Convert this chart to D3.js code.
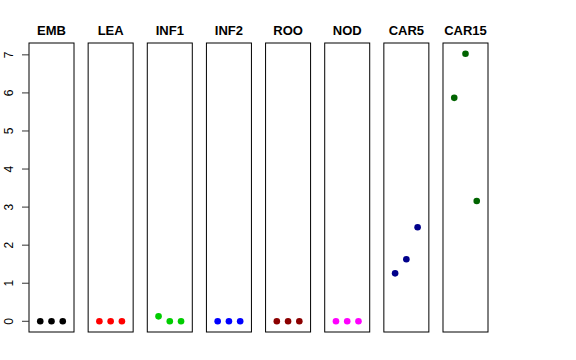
<!DOCTYPE html>
<html>
<head>
<meta charset="utf-8">
<script src="https://cdn.jsdelivr.net/npm/d3@7"></script>
<style>
  body { margin: 0; background: #fff; }
  svg { display: block; font-family: "Liberation Sans", Arial, sans-serif; }
</style>
</head>
<body>
<svg id="chart" width="576" height="360"></svg>
<script>
// one panel per tissue, three replicates each
var tissues = ['EMB', 'LEA', 'INF1', 'INF2', 'ROO', 'NOD', 'CAR5', 'CAR15'];
var colors = ['#000000', '#ff0000', '#00cd00', '#0000ff', '#8b0000', '#ff00ff', '#00008b', '#006400'];
var replicates = [1, 2, 3];
var values = [
  [0, 0, 0],
  [0, 0, 0],
  [0.13, 0, 0],
  [0, 0, 0],
  [0, 0, 0],
  [0, 0, 0],
  [1.26, 1.63, 2.47],
  [5.87, 7.03, 3.16]
];
var yTicks = [0, 1, 2, 3, 4, 5, 6, 7];

var svg = d3.select('#chart');

var panel = d3.scaleBand()
    .domain(tissues)
    .range([29, 488])
    .paddingInner(0.239)
    .paddingOuter(0);

var all = d3.merge(values);
var ymin = d3.min(all), ymax = d3.max(all);
var pad = (ymax - ymin) * 0.04;
var y = d3.scaleLinear()
    .domain([ymin - pad, ymax + pad])
    .range([332, 43]);

var x = d3.scaleLinear()
    .domain([0, 4])
    .range([0, panel.bandwidth()]);

var groups = svg.selectAll('.panel')
    .data(tissues)
    .enter().append('g')
    .attr('class', 'panel')
    .attr('transform', function(d) { return 'translate(' + panel(d) + ',0)'; });

groups.append('rect')
    .attr('x', 0)
    .attr('y', y.range()[1])
    .attr('width', panel.bandwidth())
    .attr('height', y.range()[0] - y.range()[1])
    .attr('fill', 'none')
    .attr('stroke', '#000')
    .attr('stroke-width', 1);

groups.append('text')
    .attr('x', panel.bandwidth() / 2)
    .attr('y', 35)
    .attr('text-anchor', 'middle')
    .style('font-size', '13px')
    .style('font-weight', 'bold')
    .text(function(d) { return d; });

groups.selectAll('circle')
    .data(function(d, i) {
      return values[i].map(function(v, j) { return { v: v, r: replicates[j], c: colors[i] }; });
    })
    .enter().append('circle')
    .attr('cx', function(d) { return x(d.r); })
    .attr('cy', function(d) { return y(d.v); })
    .attr('r', 3.3)
    .attr('fill', function(d) { return d.c; });

// y axis on the first panel only
var axis = svg.append('g')
    .attr('transform', 'translate(' + panel(tissues[0]) + ',0)')
    .call(d3.axisLeft(y).tickValues(yTicks).tickSize(7).tickPadding(5));
axis.select('.domain').remove();
axis.selectAll('.tick').attr('transform', null);
axis.selectAll('.tick line')
    .attr('y1', function(d) { return y(d); })
    .attr('y2', function(d) { return y(d); })
    .attr('stroke', '#333');
axis.selectAll('text')
    .attr('transform', function(d) { return 'rotate(-90,' + (-16) + ',' + y(d) + ')'; })
    .attr('x', -16)
    .attr('y', function(d) { return y(d); })
    .attr('dy', 0)
    .attr('text-anchor', 'middle')
    .style('font-size', '12px')
    .style('font-family', '"Liberation Sans", Arial, sans-serif');
</script>
</body>
</html>
